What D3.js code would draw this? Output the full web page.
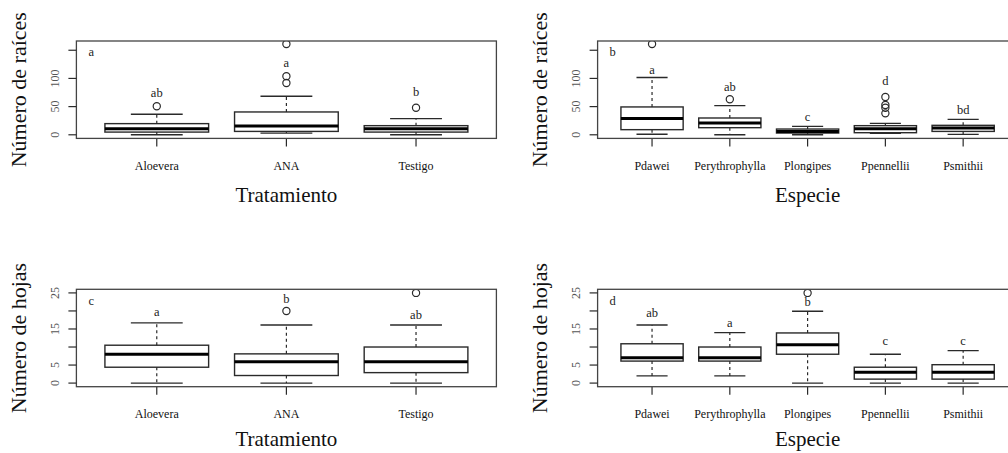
<!DOCTYPE html>
<html>
<head>
<meta charset="utf-8">
<script src="https://cdn.jsdelivr.net/npm/d3@7"></script>
<style>
  html, body { margin: 0; padding: 0; background: #fff; }
  svg { display: block; }
  text { font-family: "Liberation Serif", "Times New Roman", serif; }
</style>
</head>
<body>
<svg id="chart" width="1008" height="453"></svg>
<script>
// ---------- DATA ----------
const tratamientos = ["Aloevera", "ANA", "Testigo"];
const especies = ["Pdawei", "Perythrophylla", "Plongipes", "Ppennellii", "Psmithii"];

// box stats: [lower whisker, Q1, median, Q3, upper whisker]
const raicesTratStats = [[0, 4.8, 10.9, 19.8, 36.4], [3, 6, 15.5, 40.5, 68.4], [0, 4.8, 10.5, 16.2, 28.7]];
const raicesTratOutliers = [[50.6], [92, 104, 161], [48]];
const raicesTratLetters = ["ab", "a", "b"];
const raicesTratLetterY = [74, 128, 76];

const raicesEspStats = [[1, 9.1, 28.7, 49.4, 101.7], [0, 12.6, 20.9, 29.8, 51.8], [0, 3.1, 6, 10.2, 15], [2.5, 3.7, 10.9, 16.2, 20.3], [0.7, 6, 12, 16.8, 27.4]];
const raicesEspOutliers = [[161], [63], [], [38, 48, 53, 67], []];
const raicesEspLetters = ["a", "ab", "c", "d", "bd"];
const raicesEspLetterY = [116, 85, 31.5, 95.7, 45];

const hojasTratStats = [[0, 4.4, 8, 10.5, 16.7], [0, 2.1, 5.9, 8.1, 16.1], [0, 2.9, 5.9, 10, 16.1]];
const hojasTratOutliers = [[], [20], [25]];
const hojasTratLetters = ["a", "b", "ab"];
const hojasTratLetterY = [19.8, 23.4, 18.9];

const hojasEspStats = [[2, 6.1, 7, 10.9, 16.1], [2, 6.1, 7, 10, 14], [0, 8, 10.6, 13.9, 19.9], [0, 1.1, 3, 4.4, 8], [0, 1.1, 3, 5.1, 9]];
const hojasEspOutliers = [[], [], [25], [], []];
const hojasEspLetters = ["ab", "a", "b", "c", "c"];
const hojasEspLetterY = [19.4, 16.8, 22.6, 11.8, 11.8];

const raicesTicks = [0, 50, 100, 150];
const raicesTickLabels = ["0", "50", "100", ""];
const hojasTicks = [0, 5, 10, 15, 20, 25];
const hojasTickLabels = ["0", "5", "", "15", "", "25"];
const raicesLim = [0, 160];
const hojasLim = [0, 25];

// ---------- LAYOUT ----------
const svg = d3.select("#chart");
svg.append("rect").attr("width", 1008).attr("height", 453).attr("fill", "#fff");

const panels = [
  { tag: "a", x0: 76.4, y0: 41, tOff: 56, cats: tratamientos, stats: raicesTratStats, out: raicesTratOutliers, letters: raicesTratLetters, ly: raicesTratLetterY, lim: raicesLim, ticks: raicesTicks, tlabels: raicesTickLabels, ytitle: "Número de raíces", xtitle: "Tratamiento" },
  { tag: "b", x0: 597.6, y0: 41, tOff: 56, cats: especies, stats: raicesEspStats, out: raicesEspOutliers, letters: raicesEspLetters, ly: raicesEspLetterY, lim: raicesLim, ticks: raicesTicks, tlabels: raicesTickLabels, ytitle: "Número de raíces", xtitle: "Especie" },
  { tag: "c", x0: 76.4, y0: 289.3, tOff: 52, cats: tratamientos, stats: hojasTratStats, out: hojasTratOutliers, letters: hojasTratLetters, ly: hojasTratLetterY, lim: hojasLim, ticks: hojasTicks, tlabels: hojasTickLabels, ytitle: "Número de hojas", xtitle: "Tratamiento" },
  { tag: "d", x0: 597.6, y0: 289.3, tOff: 52, cats: especies, stats: hojasEspStats, out: hojasEspOutliers, letters: hojasEspLetters, ly: hojasEspLetterY, lim: hojasLim, ticks: hojasTicks, tlabels: hojasTickLabels, ytitle: "Número de hojas", xtitle: "Especie" }
];

const PW = 420, PH = 97.4;
const lineCol = "#2a2a2a";

panels.forEach(p => {
  const n = p.cats.length;
  const ext = 0.04 * n;
  const x = d3.scaleLinear().domain([0.5 - ext, n + 0.5 + ext]).range([p.x0, p.x0 + PW]);
  const yr = p.lim[1] - p.lim[0];
  const y = d3.scaleLinear().domain([p.lim[0] - 0.04 * yr, p.lim[1] + 0.04 * yr]).range([p.y0 + PH, p.y0]);
  const g = svg.append("g");
  const bw = (x(2) - x(1)) * 0.8;

  const clipId = "clip" + p.tag;
  svg.append("clipPath").attr("id", clipId)
    .append("rect").attr("x", p.x0).attr("y", p.y0).attr("width", PW).attr("height", PH);
  const inner = g.append("g").attr("clip-path", `url(#${clipId})`);

  p.stats.forEach((s, i) => {
    const cx = x(i + 1);
    const [lo, q1, med, q3, hi] = s;
    inner.append("line").attr("x1", cx).attr("x2", cx).attr("y1", y(q3)).attr("y2", y(hi))
      .attr("stroke", lineCol).attr("stroke-width", 1.2).attr("stroke-dasharray", "3,3");
    inner.append("line").attr("x1", cx).attr("x2", cx).attr("y1", y(q1)).attr("y2", y(lo))
      .attr("stroke", lineCol).attr("stroke-width", 1.2).attr("stroke-dasharray", "3,3");
    [lo, hi].forEach(v => {
      inner.append("line").attr("x1", cx - bw / 4).attr("x2", cx + bw / 4).attr("y1", y(v)).attr("y2", y(v))
        .attr("stroke", lineCol).attr("stroke-width", 1.4);
    });
    inner.append("rect").attr("x", cx - bw / 2).attr("width", bw)
      .attr("y", y(q3)).attr("height", Math.max(0, y(q1) - y(q3)))
      .attr("fill", "none").attr("stroke", lineCol).attr("stroke-width", 1.4);
    inner.append("line").attr("x1", cx - bw / 2).attr("x2", cx + bw / 2).attr("y1", y(med)).attr("y2", y(med))
      .attr("stroke", "#000").attr("stroke-width", 3);
    p.out[i].forEach(v => {
      inner.append("circle").attr("cx", cx).attr("cy", y(v)).attr("r", 3.6)
        .attr("fill", "none").attr("stroke", lineCol).attr("stroke-width", 1.2);
    });
    g.append("text").attr("x", cx).attr("y", y(p.ly[i])).attr("dy", "0.35em")
      .attr("text-anchor", "middle").attr("font-size", 12.5).attr("fill", "#222").text(p.letters[i]);
    g.append("line").attr("x1", cx).attr("x2", cx).attr("y1", p.y0 + PH).attr("y2", p.y0 + PH + 8)
      .attr("stroke", lineCol).attr("stroke-width", 1.2);
    g.append("text").attr("x", cx).attr("y", p.y0 + PH + 27).attr("dy", "0.35em")
      .attr("text-anchor", "middle").attr("font-size", 12).attr("fill", "#111").text(p.cats[i]);
  });

  g.append("rect").attr("x", p.x0).attr("y", p.y0).attr("width", PW).attr("height", PH)
    .attr("fill", "none").attr("stroke", "#444").attr("stroke-width", 1.3);

  p.ticks.forEach((t, k) => {
    g.append("line").attr("x1", p.x0 - 8).attr("x2", p.x0).attr("y1", y(t)).attr("y2", y(t))
      .attr("stroke", lineCol).attr("stroke-width", 1.2);
    if (p.tlabels[k]) {
      g.append("text").attr("transform", `translate(${p.x0 - 22},${y(t)}) rotate(-90)`)
        .attr("dy", "0.35em").attr("text-anchor", "middle").attr("font-size", 12).attr("fill", "#555")
        .text(p.tlabels[k]);
    }
  });

  g.append("text").attr("x", p.x0 + 15).attr("y", p.y0 + 11).attr("dy", "0.35em")
    .attr("text-anchor", "middle").attr("font-size", 12.5).attr("fill", "#222").text(p.tag);

  g.append("text").attr("x", p.x0 + PW / 2).attr("y", p.y0 + PH + p.tOff).attr("dy", "0.35em")
    .attr("text-anchor", "middle").attr("font-size", 21).attr("fill", "#111").text(p.xtitle);
  g.append("text").attr("transform", `translate(${p.x0 - 58},${p.y0 + PH / 2}) rotate(-90)`)
    .attr("dy", "0.35em").attr("text-anchor", "middle").attr("font-size", 22).attr("fill", "#111").text(p.ytitle);
});
</script>
</body>
</html>
